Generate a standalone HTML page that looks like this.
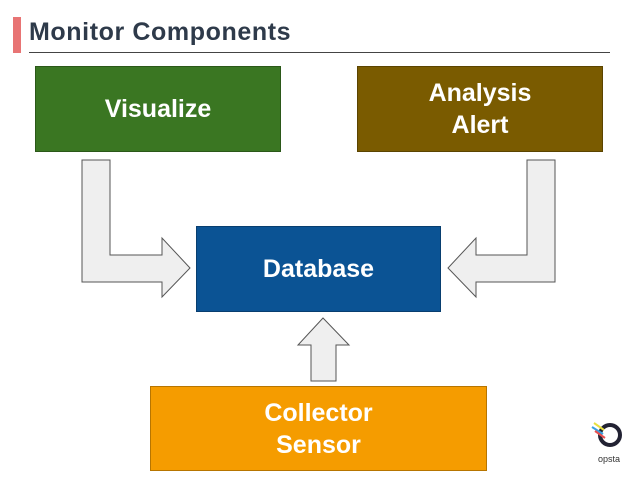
<!DOCTYPE html>
<html><head><style>
body{margin:0;width:638px;height:479px;background:#fff;position:relative;overflow:hidden;font-family:"Liberation Sans","DejaVu Sans",sans-serif}
.b{position:absolute;color:#fff;font-weight:bold;font-size:25px;display:flex;align-items:center;justify-content:center;text-align:center;line-height:32px;box-sizing:border-box;border:1px solid rgba(0,0,0,.25)}
</style></head><body>
<div style="position:absolute;left:13px;top:17px;width:8px;height:36px;background:#e87474"></div>
<div style="position:absolute;left:29px;top:18px;font-size:25px;letter-spacing:0.6px;font-weight:bold;color:#2e3a4a">Monitor Components</div>
<div style="position:absolute;left:29px;top:52px;width:581px;height:1px;background:#444"></div>
<div class="b" style="left:35px;top:66px;width:246px;height:86px;background:#3a7622">Visualize</div>
<div class="b" style="left:357px;top:66px;width:246px;height:86px;background:#7a5b00">Analysis<br>Alert</div>
<div class="b" style="left:196px;top:226px;width:245px;height:86px;background:#0b5394">Database</div>
<div class="b" style="left:150px;top:386px;width:337px;height:85px;background:#f59c00">Collector<br>Sensor</div>
<svg width="638" height="479" style="position:absolute;left:0;top:0">
<g fill="#efefef" stroke="#555" stroke-width="1">
<polygon points="82,160 110,160 110,255 162,255 162,238 190,268 162,297 162,282 82,282"/>
<polygon points="555,160 527,160 527,255 476,255 476,238 448,268 476,297 476,282 555,282"/>
<polygon points="311,381 336,381 336,345 349,345 323,318 298,345 311,345"/>
</g>
<g transform="translate(608,433)">
<circle cx="2" cy="2" r="10" fill="none" stroke="#223" stroke-width="4"/>
<line x1="-14" y1="-10" x2="-4" y2="-3" stroke="#e8e040" stroke-width="2"/>
<line x1="-16" y1="-6" x2="-5" y2="1" stroke="#3aa0e0" stroke-width="2"/>
<line x1="-13" y1="-2" x2="-3" y2="5" stroke="#e85050" stroke-width="2"/>
</g>
<text x="609" y="462" font-size="9" fill="#333" text-anchor="middle" font-family="Liberation Sans">opsta</text>
</svg>
</body></html>
